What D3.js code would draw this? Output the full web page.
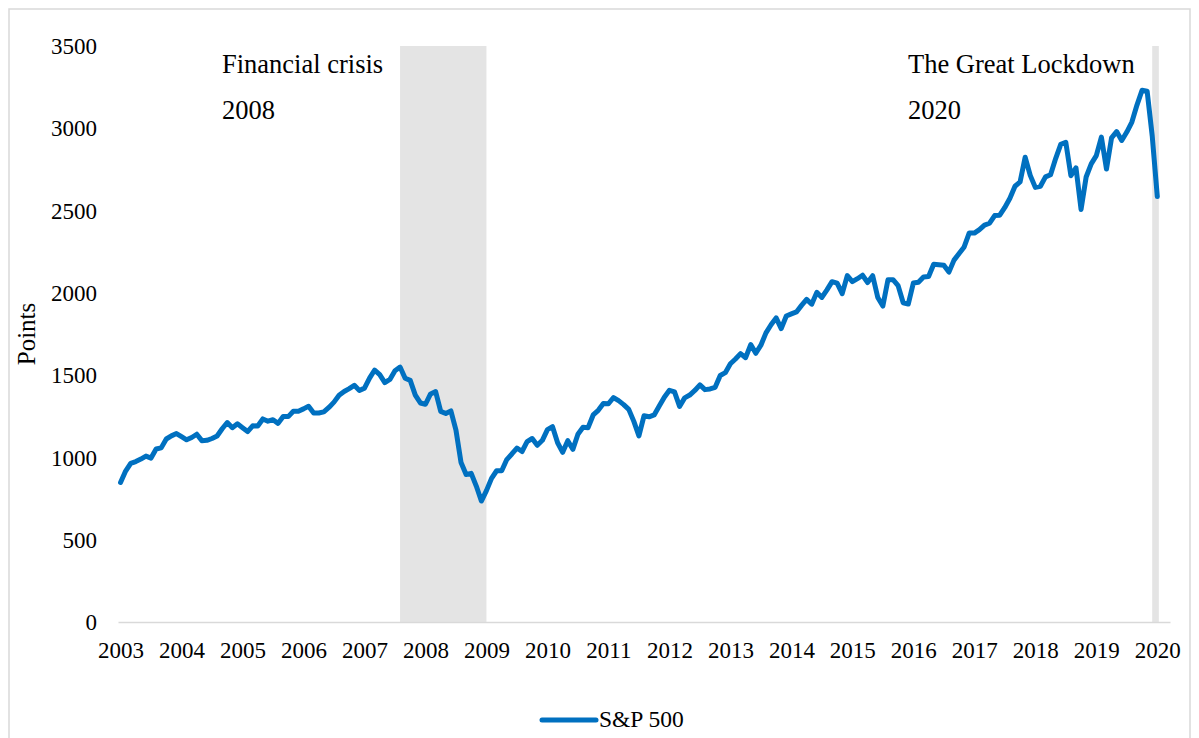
<!DOCTYPE html>
<html>
<head>
<meta charset="utf-8">
<script src="https://cdn.jsdelivr.net/npm/d3@7"></script>
<style>
  body { margin: 0; background: #fff; }
  text { font-family: "Liberation Serif", "Times New Roman", serif; fill: #000; }
</style>
</head>
<body>
<div id="chart"></div>
<script>
// S&P 500 monthly close, Mar 2003 .. Mar 2020 (one value per category)
var spx = [
  848, 917, 964, 975, 990, 1008, 996, 1051, 1058, 1112,
  1131, 1145, 1126, 1107, 1121, 1141, 1102, 1104, 1115, 1130, 1174, 1212,
  1181, 1204, 1181, 1157, 1192, 1191, 1234, 1220, 1229, 1207, 1249, 1248,
  1280, 1281, 1295, 1311, 1270, 1270, 1277, 1304, 1336, 1378, 1401, 1418,
  1438, 1407, 1421, 1482, 1531, 1503, 1455, 1474, 1527, 1549, 1481, 1468,
  1379, 1331, 1323, 1386, 1400, 1280, 1267, 1283, 1166, 969, 896, 903,
  826, 735, 798, 873, 919, 919, 987, 1021, 1057, 1036, 1096, 1115,
  1074, 1104, 1169, 1187, 1089, 1031, 1102, 1049, 1141, 1183, 1181, 1258,
  1286, 1327, 1326, 1364, 1345, 1321, 1292, 1219, 1131, 1253, 1247, 1258,
  1312, 1366, 1408, 1398, 1310, 1362, 1379, 1407, 1441, 1412, 1416, 1426,
  1498, 1515, 1569, 1598, 1631, 1606, 1686, 1633, 1682, 1757, 1806, 1848,
  1783, 1859, 1872, 1884, 1924, 1960, 1931, 2003, 1972, 2018, 2068, 2059,
  1995, 2105, 2068, 2086, 2107, 2063, 2104, 1972, 1920, 2079, 2080, 2044,
  1940, 1932, 2060, 2065, 2097, 2099, 2174, 2171, 2168, 2126, 2199, 2239,
  2279, 2364, 2363, 2384, 2412, 2423, 2470, 2472, 2519, 2575, 2648, 2674,
  2824, 2714, 2641, 2648, 2705, 2718, 2816, 2902, 2914, 2712, 2760, 2507,
  2704, 2784, 2834, 2946, 2752, 2942, 2980, 2926, 2977, 3038, 3141, 3231,
  3226, 2954, 2585
];
var nCategories = 207;   // two empty slots after the last month
var yearLabels = ["2003","2004","2005","2006","2007","2008","2009","2010","2011",
                  "2012","2013","2014","2015","2016","2017","2018","2019","2020"];
var yTicks = [0, 500, 1000, 1500, 2000, 2500, 3000, 3500];

// shaded crisis periods, in category index units
var bandFrom = [55, 203];
var bandTo   = [72, 204.3];
var bandTitle = ["Financial crisis", "The Great Lockdown"];
var bandYear  = ["2008", "2020"];

var W = 1199, H = 738;
var svg = d3.select("#chart").append("svg")
    .attr("width", W)
    .attr("height", H);

// chart area border
svg.append("rect")
    .attr("x", 9).attr("y", 9)
    .attr("width", 1181).attr("height", 760)
    .attr("fill", "none")
    .attr("stroke", "#d9d9d9")
    .attr("stroke-width", 1.5);

var x = d3.scaleLinear()
    .domain([-0.5, nCategories - 0.5])
    .range([118, 1170]);

var y = d3.scaleLinear()
    .domain([0, 3500])
    .range([622, 46]);

// bands
svg.selectAll(".band")
  .data(bandFrom)
  .enter().append("rect")
    .attr("class", "band")
    .attr("x", function(d) { return x(d); })
    .attr("width", function(d, i) { return x(bandTo[i]) - x(d); })
    .attr("y", y(3500))
    .attr("height", y(0) - y(3500))
    .attr("fill", "#e4e4e4");

// annotations
var annX = [222, 908];
svg.selectAll(".ann1")
  .data(bandTitle)
  .enter().append("text")
    .attr("x", function(d, i) { return annX[i]; })
    .attr("y", 73)
    .style("font-size", "26.5px")
    .text(function(d) { return d; });
svg.selectAll(".ann2")
  .data(bandYear)
  .enter().append("text")
    .attr("x", function(d, i) { return annX[i]; })
    .attr("y", 119)
    .style("font-size", "26.5px")
    .text(function(d) { return d; });

// y axis labels
var yAxis = svg.append("g")
    .attr("transform", "translate(97,0)")
    .call(d3.axisLeft(y).tickValues(yTicks).tickFormat(d3.format("d")).tickSize(0).tickPadding(0));
yAxis.select(".domain").remove();
yAxis.selectAll("text")
    .style("font-size", "23px")
    .style("font-family", "Liberation Serif")
    .attr("fill", "#000")
    .attr("dy", "0.33em");

// x axis
var xAxis = svg.append("g")
    .attr("transform", "translate(0," + y(0) + ")")
    .call(d3.axisBottom(x)
        .tickValues(d3.range(0, yearLabels.length).map(function(i) { return i * 12; }))
        .tickFormat(function(d) { return yearLabels[d / 12]; })
        .tickSize(0)
        .tickPadding(0));
xAxis.select(".domain")
    .attr("stroke", "#d9d9d9")
    .attr("stroke-width", 1.5);
xAxis.selectAll("text")
    .style("font-size", "23px")
    .style("font-family", "Liberation Serif")
    .attr("fill", "#000")
    .attr("dy", null)
    .attr("y", 36);

// axis title
svg.append("text")
    .attr("transform", "translate(35,334) rotate(-90)")
    .attr("text-anchor", "middle")
    .style("font-size", "25px")
    .text("Points");

// line
var line = d3.line()
    .x(function(d, i) { return x(i); })
    .y(function(d) { return y(d); });

svg.append("path")
    .datum(spx)
    .attr("d", line)
    .attr("fill", "none")
    .attr("stroke", "#0070c0")
    .attr("stroke-width", 5)
    .attr("stroke-linejoin", "round")
    .attr("stroke-linecap", "round");

// legend
var legend = svg.append("g").attr("transform", "translate(540,720)");
legend.append("line")
    .attr("x1", 2).attr("x2", 56)
    .attr("stroke", "#0070c0")
    .attr("stroke-width", 5)
    .attr("stroke-linecap", "round");
legend.append("text")
    .attr("x", 59)
    .attr("y", 7)
    .style("font-size", "23.5px")
    .text("S&P 500");
</script>
</body>
</html>
